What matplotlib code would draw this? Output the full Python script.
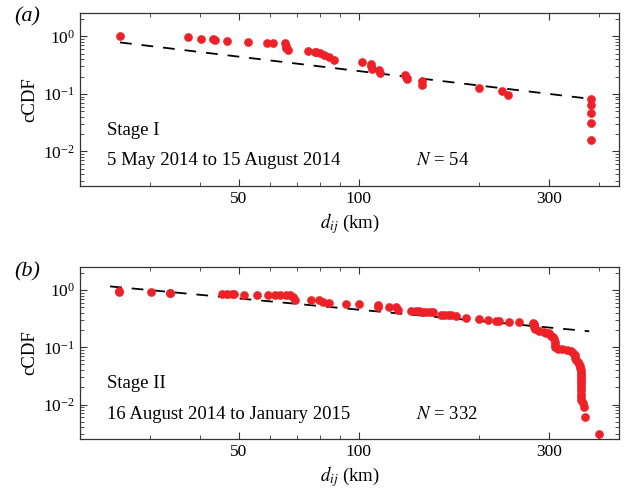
import matplotlib
matplotlib.use("Agg")
import matplotlib.pyplot as plt
from matplotlib.ticker import LogLocator, FixedLocator, FixedFormatter, NullFormatter

plt.rcParams['font.family'] = ['Liberation Serif', 'DejaVu Serif']
plt.rcParams['mathtext.fontset'] = 'stix'

# ---- Stage I data ----
a_dist = [25.2, 37.3, 40.3, 43.1, 43.5, 46.8, 52.9, 59.0, 60.9, 65.5, 65.6, 65.8, 66.6,
          74.6, 77.6, 78.0, 80.1, 81.7, 84.2, 86.6, 102, 107.5, 107.5, 108, 112.6, 113,
          131.1, 131.8, 132.5, 144, 144.5, 200.9, 228.5, 237.2,
          383.5, 383.5, 383.5, 383.5, 383.5]
a_ccdf = [1.0, 0.96, 0.91, 0.90, 0.87, 0.83, 0.80, 0.775, 0.755, 0.755, 0.67, 0.63, 0.585,
          0.56, 0.53, 0.525, 0.51, 0.48, 0.435, 0.39, 0.364, 0.33, 0.30, 0.268, 0.26, 0.228,
          0.213, 0.195, 0.18, 0.167, 0.142, 0.127, 0.111, 0.095,
          0.081, 0.063, 0.047, 0.0315, 0.0158]
a_fit_x = [25.2, 375.5]
a_fit_y = [0.785, 0.083]

# ---- Stage II data ----
b_dist = [25.1, 25.1, 30.2, 33.6, 33.6, 45.5, 46.7, 48.0, 48.6, 51.6, 55.7, 59.2, 61.6,
          63.5, 65.9, 67.3, 68.4, 69.2, 76.1, 79.7, 81.4, 84.5, 93.1, 100.4, 111.6, 111.6,
          119.4, 124.1, 125.4, 135.5, 139.4, 142, 144.9, 147.5, 150.6, 153.5, 161, 164,
          167.4, 171, 175.8, 186, 201, 211, 221, 225.5, 239, 253,
          274, 275, 275.5, 276, 276, 276.5, 277, 284, 292, 296, 300, 304, 307, 310, 310.5,
          311, 311, 316, 323, 333, 341, 345, 348, 350, 352, 355, 357, 359, 360,
          361, 361, 361, 361, 361, 361, 361, 361, 361, 361, 361, 362, 365,
          368, 370, 401]
b_ccdf = [0.946, 0.92, 0.93, 0.90, 0.88, 0.85, 0.85, 0.85, 0.85, 0.83, 0.83, 0.83, 0.83,
          0.83, 0.83, 0.81, 0.745, 0.68, 0.67, 0.67, 0.61, 0.585, 0.57, 0.57, 0.55, 0.51,
          0.513, 0.50, 0.45, 0.437, 0.43, 0.425, 0.42, 0.415, 0.41, 0.405, 0.37, 0.368,
          0.365, 0.36, 0.355, 0.326, 0.313, 0.30, 0.29, 0.29, 0.281, 0.273,
          0.27, 0.256, 0.245, 0.235, 0.225, 0.215, 0.21, 0.19, 0.183, 0.18, 0.175, 0.16,
          0.15, 0.14, 0.125, 0.11, 0.10, 0.095, 0.092, 0.089, 0.0845, 0.078, 0.072, 0.066,
          0.0605, 0.056, 0.0516, 0.047, 0.043,
          0.0395, 0.036, 0.033, 0.030, 0.027, 0.0245, 0.0225, 0.02, 0.0178, 0.0155, 0.0136,
          0.012, 0.0105, 0.0089, 0.0061, 0.003]
b_fit_x = [23.8, 379]
b_fit_y = [1.155, 0.19]

x_ticks = [50, 100, 300]
x_ticklabels = ['50', '100', '300']

red = '#EC2228'

fig = plt.figure(figsize=(6.28, 4.95), dpi=100)
ax_a = fig.add_axes([80/628, 1-186/495, 539/628, 173/495])
ax_b = fig.add_axes([80/628, 1-439/495, 539/628, 172.3/495])

panels = [
    (ax_a, a_dist, a_ccdf, a_fit_x, a_fit_y, 'Stage I', '5 May 2014 to 15 August 2014', '$N$ = 54', '(a)', 1-17/495),
    (ax_b, b_dist, b_ccdf, b_fit_x, b_fit_y, 'Stage II', '16 August 2014 to January 2015', '$N$ = 332', '(b)', 1-272/495),
]

for ax, xs, ys, fx, fy, stage, period, ntext, lab, laby in panels:
    ax.plot(fx, fy, color='black', lw=1.3, dashes=(6.5, 5.5), zorder=2)
    ax.plot(xs, ys, 'o', color=red, ms=5.8, mec=red, mew=0.4, zorder=3)
    ax.set_xscale('log')
    ax.set_yscale('log')
    ax.set_xlim(20, 450)
    ax.set_ylim(0.0025, 2.55)
    ax.xaxis.set_major_locator(FixedLocator(x_ticks))
    ax.xaxis.set_major_formatter(FixedFormatter(x_ticklabels))
    ax.xaxis.set_minor_locator(FixedLocator([20, 30, 40, 60, 70, 80, 90, 200, 400]))
    ax.xaxis.set_minor_formatter(NullFormatter())
    ax.yaxis.set_major_locator(LogLocator(base=10, numticks=10))
    ax.yaxis.set_minor_locator(LogLocator(base=10, subs=range(2, 10), numticks=20))
    ax.yaxis.set_minor_formatter(NullFormatter())
    ax.tick_params(which='both', direction='in', top=True, right=True, labelsize=12.5,
                   color='#333333')
    ax.tick_params(which='major', length=5, width=0.8)
    ax.tick_params(which='minor', length=3, width=0.6)
    for s in ax.spines.values():
        s.set_linewidth(0.9)
        s.set_color('#333333')
    ax.set_ylabel('cCDF', fontsize=13.5, labelpad=4)
    ax.set_xlabel('$d_{ij}$ (km)', fontsize=13.5, labelpad=3)
    ax.text(0.05, 0.32, stage, transform=ax.transAxes, fontsize=13.5, va='center', ha='left')
    ax.text(0.05, 0.145, period, transform=ax.transAxes, fontsize=13.5, va='center', ha='left')
    ax.text(0.623, 0.145, ntext, transform=ax.transAxes, fontsize=13.5, va='center', ha='left')
    fig.text(0.022, laby, lab, fontsize=16, style='italic', va='center', ha='left')

fig.savefig('out.png', dpi=100)
